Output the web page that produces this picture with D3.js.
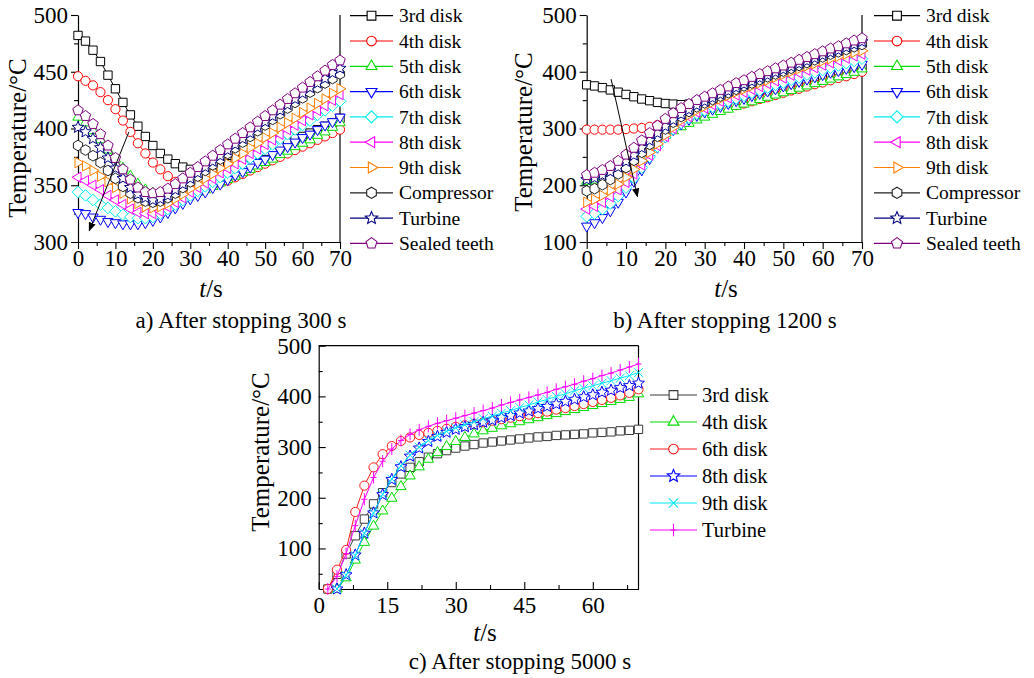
<!DOCTYPE html>
<html>
<head>
<meta charset="utf-8">
<script src="https://cdn.jsdelivr.net/npm/d3@7"></script>
<style>
  body { margin: 0; background: #fff; }
  svg, svg text { font-family: "Liberation Serif", "Times New Roman", Times, "DejaVu Serif", serif; }
</style>
</head>
<body>
<svg id="chart" width="1034" height="678"></svg>
<script>
// ---------- data ----------
// sample times (s), one point every 2 s
const timeSteps = [0,2,4,6,8,10,12,14,16,18,20,22,24,26,28,30,32,34,36,38,40,42,44,46,48,50,52,54,56,58,60,62,64,66,68,70];

// a) after stopping 300 s (°C)
const a3rd  = [482,477,469,459,447,435,423,412,402,393,385,378,373,369,366,364,363,364,365,367,369,371,373,375,377,380,382,385,388,391,393,396,399,402,405,409];
const a4th  = [446,442,438,432,425,417,407,397,387,378,370,364,358,353,350,348,348,349,350,352,354,357,360,363,366,369,372,375,378,381,384,387,390,393,396,399];
const a5th  = [410,405,398,390,381,373,365,358,351,346,343,341,340,340,341,342,344,346,349,352,355,358,361,364,367,370,373,377,380,384,387,390,394,397,401,405];
const a6th  = [326,325,322,320,318,317,316,316,316,317,319,322,326,330,334,338,341,344,348,351,355,359,362,366,370,373,377,381,384,388,392,395,399,403,406,410];
const a7th  = [344,341,337,333,330,327,324,322,321,321,322,325,329,333,337,341,345,349,353,357,361,365,369,374,378,382,386,391,395,399,403,407,412,416,420,424];
const a8th  = [357,354,350,346,341,337,333,329,326,325,325,327,331,335,339,344,348,352,356,361,365,369,373,378,382,386,390,395,399,403,407,412,416,420,425,430];
const a9th  = [370,367,363,358,353,348,343,338,334,331,330,331,334,338,342,347,351,356,360,365,369,374,378,383,387,392,396,401,405,409,414,418,422,426,431,435];
const aComp = [385,381,376,370,363,356,349,343,339,336,335,336,339,343,348,353,358,363,368,373,378,383,388,393,398,403,408,413,418,423,427,432,436,440,444,448];
const aTurb = [401,397,391,383,374,365,356,348,342,339,337,338,341,346,351,356,361,366,371,376,381,386,391,396,401,406,411,416,421,426,431,436,440,444,449,453];
const aSeal = [416,411,404,395,385,374,364,355,348,344,343,344,347,351,356,361,366,371,376,381,386,391,396,401,406,411,416,421,426,431,436,441,446,451,456,460];

// b) after stopping 1200 s (°C)
const b3rd  = [377,375,372,368,364,360,356,352,349,346,344,343,342,343,344,346,348,351,353,356,359,362,365,368,371,374,377,380,383,386,389,392,395,398,402,406];
const b4th  = [298,298,298,298,298,299,300,301,303,306,310,314,317,320,323,326,330,333,337,341,344,348,352,355,359,363,367,370,374,378,381,385,389,392,396,400];
const b5th  = [207,209,213,219,226,235,245,256,267,278,288,296,303,309,315,320,325,330,334,339,343,347,351,355,359,363,367,371,375,379,383,387,391,395,399,405];
const b6th  = [128,134,143,155,170,188,207,227,247,267,285,298,308,316,323,329,334,339,344,349,353,358,362,366,370,375,379,383,387,391,395,399,402,406,409,413];
const b7th  = [145,150,158,168,181,196,213,231,250,268,285,299,310,319,326,332,338,343,348,353,358,363,367,372,377,381,386,390,395,399,403,407,411,415,419,423];
const b8th  = [158,163,170,180,192,205,220,236,253,270,286,300,312,321,329,336,342,348,354,359,364,369,374,379,384,389,394,398,403,407,412,416,420,424,428,431];
const b9th  = [170,175,182,191,202,214,228,243,258,273,288,302,314,324,332,339,346,352,358,364,369,375,380,385,390,395,400,405,410,414,419,423,427,431,434,437];
const bComp = [190,194,201,210,220,231,244,258,272,286,299,311,321,330,338,345,351,357,363,369,375,380,386,391,396,401,406,411,416,421,426,431,435,439,444,448];
const bTurb = [210,213,218,224,232,242,253,266,279,292,304,315,325,333,341,348,354,360,366,372,378,383,389,394,399,404,409,414,419,424,429,434,438,443,448,453];
const bSeal = [218,222,227,234,243,254,266,279,292,305,317,327,336,343,350,356,362,368,374,380,385,391,396,401,406,411,416,421,426,431,436,441,445,450,455,459];

// c) after stopping 5000 s (°C); null = below the plotted range
const c3rd  = [null,20,49,89,125,158,188,210,230,247,260,271,280,287,293,298,302,305,308,310,312,314,316,318,320,321,323,324,325,326,328,329,330,332,333,335];
const c4th  = [null,null,20,42,77,112,144,174,199,222,243,261,276,289,301,311,319,326,332,337,342,346,350,354,358,362,366,370,374,378,382,386,390,394,398,405];
const c6th  = [null,20,58,97,172,224,260,286,302,312,319,324,328,332,336,340,343,346,349,352,355,358,361,364,367,370,374,377,381,385,389,393,397,402,407,414];
const c8th  = [null,null,20,48,87,130,170,206,236,261,282,298,311,321,329,335,340,344,349,353,358,362,367,371,376,380,385,390,394,399,403,408,412,417,421,426];
const c9th  = [null,null,20,47,86,130,170,207,237,263,284,300,313,323,331,338,344,350,356,361,367,372,378,383,389,394,400,405,411,416,421,426,431,436,441,447];
const cTurb = [null,20,45,90,145,197,240,272,296,313,325,334,341,347,352,357,362,367,372,377,383,388,393,398,403,408,414,419,424,430,435,441,446,452,458,464];

// tick values
const ticksXab = [0,10,20,30,40,50,60,70];
const minorXab = [5,15,25,35,45,55,65];
const ticksYa  = [300,350,400,450,500];
const minorYa  = [325,375,425,475];
const ticksYb  = [100,200,300,400,500];
const minorYb  = [150,250,350,450];
const ticksXc  = [0,15,30,45,60];
const minorXc  = [7.5,22.5,37.5,52.5,67.5];
const ticksYc  = [100,200,300,400,500];
const minorYc  = [50,150,250,350,450];

// arrow annotations, data coordinates [t, T]
const arrowA = [[13.6, 397], [3.0, 310]];
const arrowB = [[6.2, 387], [12.9, 180]];

const FONT = "'Liberation Serif', 'Times New Roman', Times, 'DejaVu Serif', serif";

// ---------- marker shapes ----------
function polygonType(n, rotDeg) {
  return { draw(ctx, size) {
    const r = Math.sqrt(size);
    for (let i = 0; i < n; i++) {
      const a = (rotDeg + 360 * i / n) * Math.PI / 180;
      const px = r * Math.cos(a), py = r * Math.sin(a);
      if (i === 0) ctx.moveTo(px, py); else ctx.lineTo(px, py);
    }
    ctx.closePath();
  } };
}
const shapes = {
  square:   polygonType(4, 45),
  circle:   { draw(ctx, size) { const r = Math.sqrt(size); ctx.moveTo(r, 0); ctx.arc(0, 0, r, 0, 2 * Math.PI); } },
  triUp:    polygonType(3, -90),
  triDown:  polygonType(3, 90),
  triLeft:  polygonType(3, 180),
  triRight: polygonType(3, 0),
  diamond:  polygonType(4, 0),
  hexagon:  polygonType(6, -90),
  pentagon: polygonType(5, -90),
  star: { draw(ctx, size) {
    const r = Math.sqrt(size), ri = r * 0.45;
    for (let i = 0; i < 10; i++) {
      const rr = i % 2 ? ri : r;
      const a = (-90 + 36 * i) * Math.PI / 180;
      if (i === 0) ctx.moveTo(rr * Math.cos(a), rr * Math.sin(a)); else ctx.lineTo(rr * Math.cos(a), rr * Math.sin(a));
    }
    ctx.closePath();
  } },
  cross: { draw(ctx, size) {
    const r = Math.sqrt(size) * 0.8;
    ctx.moveTo(-r, -r); ctx.lineTo(r, r); ctx.moveTo(-r, r); ctx.lineTo(r, -r);
  } },
  plus: { draw(ctx, size) {
    const r = Math.sqrt(size);
    ctx.moveTo(0, -r); ctx.lineTo(0, r); ctx.moveTo(-r * 0.5, 0); ctx.lineTo(r * 0.5, 0);
  } }
};
const shapeSize = { square: 5.9, circle: 4.6, triUp: 6.0, triDown: 6.0, triLeft: 6.0, triRight: 6.0,
                    diamond: 5.8, hexagon: 5.3, pentagon: 5.5, star: 6.2, cross: 5.5, plus: 6.0 };

// ---------- series tables ----------
const seriesA = [
  { name: "3rd disk",     values: a3rd,  color: "#000000", shape: "square" },
  { name: "4th disk",     values: a4th,  color: "#ff0000", shape: "circle" },
  { name: "5th disk",     values: a5th,  color: "#00dd00", shape: "triUp" },
  { name: "6th disk",     values: a6th,  color: "#0000ff", shape: "triDown" },
  { name: "7th disk",     values: a7th,  color: "#00eeee", shape: "diamond" },
  { name: "8th disk",     values: a8th,  color: "#ff00ff", shape: "triLeft" },
  { name: "9th disk",     values: a9th,  color: "#ff8000", shape: "triRight" },
  { name: "Compressor",   values: aComp, color: "#222222", shape: "hexagon" },
  { name: "Turbine",      values: aTurb, color: "#000080", shape: "star" },
  { name: "Sealed teeth", values: aSeal, color: "#800080", shape: "pentagon" }
];
const seriesB = [
  { name: "3rd disk",     values: b3rd,  color: "#000000", shape: "square" },
  { name: "4th disk",     values: b4th,  color: "#ff0000", shape: "circle" },
  { name: "5th disk",     values: b5th,  color: "#00dd00", shape: "triUp" },
  { name: "6th disk",     values: b6th,  color: "#0000ff", shape: "triDown" },
  { name: "7th disk",     values: b7th,  color: "#00eeee", shape: "diamond" },
  { name: "8th disk",     values: b8th,  color: "#ff00ff", shape: "triLeft" },
  { name: "9th disk",     values: b9th,  color: "#ff8000", shape: "triRight" },
  { name: "Compressor",   values: bComp, color: "#222222", shape: "hexagon" },
  { name: "Turbine",      values: bTurb, color: "#000080", shape: "star" },
  { name: "Sealed teeth", values: bSeal, color: "#800080", shape: "pentagon" }
];
const seriesC = [
  { name: "3rd disk", values: c3rd,  color: "#3a3a3a", shape: "square" },
  { name: "4th disk", values: c4th,  color: "#00dd00", shape: "triUp" },
  { name: "6th disk", values: c6th,  color: "#ff1a1a", shape: "circle" },
  { name: "8th disk", values: c8th,  color: "#0000ff", shape: "star" },
  { name: "9th disk", values: c9th,  color: "#00e5ff", shape: "cross" },
  { name: "Turbine",  values: cTurb, color: "#ff00ff", shape: "plus" }
];

// ---------- drawing ----------
const svg = d3.select("#chart").attr("font-family", FONT);

const defs = svg.append("defs");
defs.append("marker")
  .attr("id", "arrowhead").attr("viewBox", "0 0 10 10")
  .attr("refX", 9).attr("refY", 5)
  .attr("markerWidth", 9).attr("markerHeight", 9)
  .attr("markerUnits", "userSpaceOnUse")
  .attr("orient", "auto")
  .append("path").attr("d", "M0,1 L10,5 L0,9 Z").attr("fill", "#000");

function styleAxis(g, fontSize) {
  g.attr("font-family", FONT).attr("font-size", fontSize);
  g.selectAll("text").attr("fill", "#000").attr("font-family", FONT);
  g.selectAll("line").attr("stroke", "#000").attr("stroke-width", 1.1);
  g.select(".domain").attr("stroke", "#000").attr("stroke-width", 1.2);
}

function addText(sel) {
  return sel.append("text").attr("font-family", FONT).attr("fill", "#000");
}

function drawPanel(p) {
  const g = svg.append("g");
  const x = d3.scaleLinear().domain(p.xDomain).range(p.xRange);
  const y = d3.scaleLinear().domain(p.yDomain).range(p.yRange);
  const dir = p.inward ? -1 : 1;

  // minor ticks
  g.append("g").attr("transform", `translate(0,${p.yRange[0]})`)
    .call(d3.axisBottom(x).tickValues(p.xMinor).tickFormat("").tickSizeInner(4 * dir).tickSizeOuter(0))
    .call(a => { styleAxis(a, 0); a.select(".domain").remove(); });
  g.append("g").attr("transform", `translate(${p.xRange[0]},0)`)
    .call(d3.axisLeft(y).tickValues(p.yMinor).tickFormat("").tickSizeInner(4 * dir).tickSizeOuter(0))
    .call(a => { styleAxis(a, 0); a.select(".domain").remove(); });

  // major ticks with labels
  g.append("g").attr("transform", `translate(0,${p.yRange[0]})`)
    .call(d3.axisBottom(x).tickValues(p.xTicks).tickFormat(d3.format("d"))
      .tickSizeInner(7 * dir).tickSizeOuter(0).tickPadding(p.xPad))
    .call(a => styleAxis(a, p.tickFont));
  g.append("g").attr("transform", `translate(${p.xRange[0]},0)`)
    .call(d3.axisLeft(y).tickValues(p.yTicks).tickFormat(d3.format("d"))
      .tickSizeInner(7 * dir).tickSizeOuter(0).tickPadding(p.yPad))
    .call(a => styleAxis(a, p.tickFont));

  // frame lines
  g.append("line")
    .attr("x1", p.xRange[1]).attr("x2", p.xRange[1])
    .attr("y1", p.yRange[0]).attr("y2", p.yRange[1])
    .attr("stroke", "#000").attr("stroke-width", 1.2);
  if (p.topLine) {
    g.append("line")
      .attr("x1", p.xRange[0]).attr("x2", p.xRange[1])
      .attr("y1", p.yRange[1]).attr("y2", p.yRange[1])
      .attr("stroke", "#000").attr("stroke-width", 1.2);
  }

  // series
  const line = d3.line()
    .defined(d => d.v != null)
    .x(d => x(d.t)).y(d => y(d.v));
  p.series.forEach(s => {
    const pts = timeSteps.map((t, i) => ({ t, v: s.values[i] }));
    const sg = g.append("g");
    sg.append("path").attr("d", line(pts))
      .attr("fill", "none").attr("stroke", s.color).attr("stroke-width", 1);
    const r = shapeSize[s.shape];
    const sym = d3.symbol().type(shapes[s.shape]).size(r * r);
    sg.selectAll("path.mk").data(pts.filter(d => d.v != null)).join("path")
      .attr("class", "mk")
      .attr("transform", d => `translate(${x(d.t)},${y(d.v)})`)
      .attr("d", sym)
      .attr("fill", (s.shape === "cross" || s.shape === "plus") ? "none" : "#fff")
      .attr("stroke", s.color).attr("stroke-width", 1);
  });

  // arrow annotation
  if (p.arrow) {
    g.append("line")
      .attr("x1", x(p.arrow[0][0])).attr("y1", y(p.arrow[0][1]))
      .attr("x2", x(p.arrow[1][0])).attr("y2", y(p.arrow[1][1]))
      .attr("stroke", "#000").attr("stroke-width", 1)
      .attr("marker-end", "url(#arrowhead)");
  }

  // legend
  p.series.forEach((s, i) => {
    const ly = p.legend.y0 + i * p.legend.dy;
    const lg = svg.append("g");
    lg.append("line").attr("x1", p.legend.x0).attr("x2", p.legend.x1)
      .attr("y1", ly).attr("y2", ly).attr("stroke", s.color).attr("stroke-width", 1.2);
    const r = shapeSize[s.shape];
    lg.append("path")
      .attr("transform", `translate(${(p.legend.x0 + p.legend.x1) / 2},${ly})`)
      .attr("d", d3.symbol().type(shapes[s.shape]).size(r * r * 1.1))
      .attr("fill", (s.shape === "cross" || s.shape === "plus") ? "none" : "#fff")
      .attr("stroke", s.color).attr("stroke-width", 1.1);
    addText(lg).attr("x", p.legend.tx).attr("y", ly).attr("dy", "0.34em")
      .attr("font-size", p.legend.font).text(s.name);
  });

  // axis titles
  addText(svg)
    .attr("transform", `translate(${p.yTitle[0]},${p.yTitle[1]}) rotate(-90)`)
    .attr("text-anchor", "middle").attr("dy", "0.35em")
    .attr("font-size", 25).text("Temperature/°C");
  const xt = addText(svg)
    .attr("x", p.xTitle[0]).attr("y", p.xTitle[1])
    .attr("text-anchor", "middle").attr("font-size", 25);
  xt.append("tspan").attr("font-style", "italic").text("t");
  xt.append("tspan").text("/s");

  // caption
  addText(svg)
    .attr("x", p.caption[0]).attr("y", p.caption[1])
    .attr("text-anchor", "middle").attr("font-size", 23)
    .text(p.caption[2]);
}

drawPanel({
  series: seriesA, xDomain: [0, 70], yDomain: [300, 500],
  xRange: [78, 340], yRange: [242, 15],
  xTicks: ticksXab, xMinor: minorXab, yTicks: ticksYa, yMinor: minorYa,
  inward: false, topLine: false, tickFont: 23, xPad: 1, yPad: 3,
  legend: { x0: 350, x1: 393, tx: 399, y0: 15.7, dy: 25.3, font: 19.5 },
  arrow: arrowA,
  yTitle: [17, 138], xTitle: [211, 297],
  caption: [241, 328, "a) After stopping 300 s"]
});

drawPanel({
  series: seriesB, xDomain: [0, 70], yDomain: [100, 500],
  xRange: [586.7, 862], yRange: [242, 15],
  xTicks: ticksXab, xMinor: minorXab, yTicks: ticksYb, yMinor: minorYb,
  inward: false, topLine: false, tickFont: 23, xPad: 1, yPad: 3,
  legend: { x0: 874, x1: 920, tx: 926, y0: 15.7, dy: 25.3, font: 19.5 },
  arrow: arrowB,
  yTitle: [523, 132], xTitle: [726, 297],
  caption: [725, 328, "b) After stopping 1200 s"]
});

drawPanel({
  series: seriesC, xDomain: [0, 70], yDomain: [20, 500],
  xRange: [318.7, 638.5], yRange: [589, 345.7],
  xTicks: ticksXc, xMinor: minorXc, yTicks: ticksYc, yMinor: minorYc,
  inward: true, topLine: true, tickFont: 23, xPad: 8, yPad: 7,
  legend: { x0: 650, x1: 697, tx: 702, y0: 395, dy: 27, font: 20.5 },
  arrow: null,
  yTitle: [260, 452], xTitle: [485, 641],
  caption: [520, 669, "c) After stopping 5000 s"]
});
</script>
</body>
</html>
